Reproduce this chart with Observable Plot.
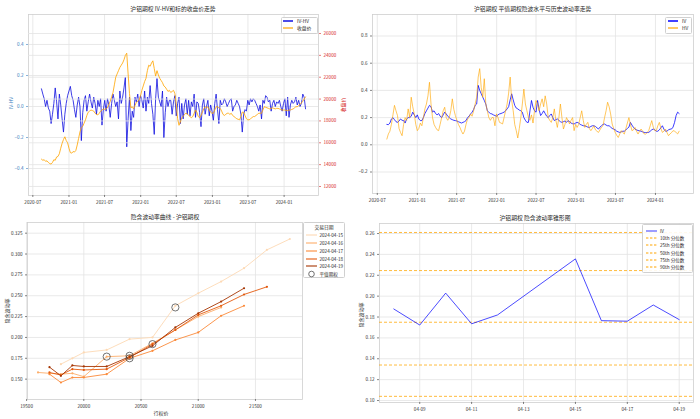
<!DOCTYPE html>
<html><head><meta charset="utf-8">
<script src="https://cdn.jsdelivr.net/npm/d3@7"></script>
<script src="https://cdn.jsdelivr.net/npm/@observablehq/plot@0.6"></script>
<style>
html,body{margin:0;padding:0;background:#fff;}
#root{position:relative;width:700px;height:419px;overflow:hidden;background:#fff;font-family:"Noto Sans CJK SC","DejaVu Sans",sans-serif;}
.t{position:absolute;white-space:nowrap;line-height:1;color:#262626;}
.lg{position:absolute;background:rgba(255,255,255,0.9);border:0.6px solid #d0d0d0;border-radius:1.5px;box-sizing:border-box;}
</style></head><body><div id="root"></div>
<script>
// ---------- Panel 1 & 2: weekly series (from 2020-08-14, one value per week) ----------
const weekStart = "2020-08-14";
const ivhv = [0.114,0.08,0.05,0.0,0.04,-0.01,-0.03,-0.11,-0.05,0.02,
0.12,0.03,-0.08,0.08,0.01,-0.08,-0.165,-0.05,0.02,0.07,
0.10,0.13,0.07,0.04,-0.02,-0.07,0.01,0.06,0.0,-0.22,
-0.04,0.04,0.07,-0.03,0.03,0.08,0.03,-0.01,0.06,0.02,
-0.05,0.04,0.0,0.05,-0.12,-0.02,0.04,-0.03,0.05,0.01,
-0.07,0.02,0.08,0.04,0.0,0.03,-0.08,0.10,0.02,0.06,
0.12,0.19,-0.26,-0.08,0.06,-0.155,-0.03,-0.07,0.06,0.03,
0.08,0.0,0.07,0.04,-0.01,0.10,-0.03,0.06,0.02,0.135,
0.02,-0.05,-0.18,0.05,0.18,0.06,0.03,0.0,0.10,-0.20,
-0.04,0.06,0.0,0.04,0.04,-0.05,0.03,0.07,-0.06,0.02,
0.06,-0.11,0.02,-0.08,0.01,0.05,-0.05,0.04,-0.06,0.03,
0.0,0.08,-0.07,0.03,0.02,-0.04,-0.13,0.01,0.05,-0.05,
0.0,0.04,-0.06,0.01,-0.03,-0.09,0.02,0.08,-0.02,-0.11,
0.04,0.01,0.02,0.05,0.03,0.0,0.02,0.04,0.05,-0.03,
0.0,0.01,0.04,0.02,0.0,-0.05,-0.165,-0.05,-0.02,-0.03,
0.04,0.01,0.05,0.03,0.05,0.04,0.02,0.0,-0.03,0.01,
-0.08,0.04,0.02,0.07,0.06,0.03,0.04,-0.03,0.02,0.04,
0.0,0.03,0.02,0.04,0.0,-0.03,0.02,0.05,-0.06,0.06,
-0.07,0.01,0.04,0.02,0.03,0.06,0.01,0.04,0.0,0.02,
0.08,0.06,-0.015];
const closePrice = [14500,14400,14450,14300,14350,14200,14100,14050,14200,14450,
14400,14700,14750,15000,15500,15950,16300,16550,16200,16000,
15500,15100,15050,15200,15150,15300,15800,16400,17000,17400,
17500,17800,18100,18500,18800,18900,19000,18950,18900,18700,
18600,18550,18700,18900,19000,19100,19050,19100,19200,19500,
19800,20200,20600,21300,22000,22300,22600,22900,23100,23300,
23600,24000,24200,22300,20500,19200,19300,19100,19400,19700,
19800,19900,20300,20800,21200,21600,21900,22600,23100,23000,
23300,23500,22800,22100,22600,22200,21900,21700,21500,21200,
21100,20900,20700,20800,20600,20700,20800,20500,19500,18200,
17600,17900,18300,18400,18600,18700,18650,18500,18400,18300,
18400,18700,19000,18800,18400,18300,18500,18800,19100,19300,
19200,19300,19000,18800,18700,18700,19000,19300,19300,19200,
19150,18900,18600,18500,18600,18700,18700,18600,18700,18500,
18400,18300,18200,18150,18100,18400,18800,18800,18500,18200,
18100,18100,18200,18300,18400,18400,18500,18600,18700,18700,
18700,19000,19300,19250,19200,19150,19100,19150,19200,19150,
19100,19150,19150,19100,19050,19000,19000,19000,18950,18950,
19000,19000,19050,19100,19200,19300,19300,19400,19500,19650,
19800,20000,20200];
const atmIV = [0.150,0.148,0.160,0.190,0.200,0.185,0.170,0.165,0.175,0.190,
0.180,0.178,0.160,0.190,0.200,0.200,0.210,0.240,0.220,0.200,
0.220,0.190,0.178,0.178,0.200,0.230,0.250,0.270,0.290,0.280,
0.240,0.250,0.230,0.220,0.230,0.210,0.200,0.220,0.240,0.227,
0.210,0.200,0.190,0.185,0.180,0.178,0.175,0.170,0.165,0.160,
0.165,0.170,0.178,0.200,0.210,0.227,0.240,0.260,0.290,0.300,
0.437,0.400,0.375,0.350,0.326,0.300,0.250,0.240,0.230,0.227,
0.220,0.215,0.210,0.220,0.227,0.230,0.235,0.240,0.250,0.264,
0.280,0.330,0.375,0.330,0.290,0.270,0.264,0.255,0.250,0.240,
0.200,0.180,0.165,0.165,0.250,0.326,0.276,0.250,0.240,0.326,
0.260,0.215,0.230,0.250,0.230,0.210,0.200,0.215,0.227,0.200,
0.178,0.185,0.190,0.180,0.170,0.165,0.170,0.175,0.165,0.178,
0.170,0.160,0.155,0.153,0.160,0.165,0.160,0.150,0.145,0.140,
0.140,0.135,0.130,0.128,0.135,0.140,0.140,0.135,0.125,0.116,
0.130,0.140,0.150,0.153,0.145,0.140,0.140,0.130,0.120,0.116,
0.110,0.100,0.095,0.091,0.095,0.100,0.100,0.110,0.120,0.130,
0.165,0.145,0.128,0.115,0.110,0.105,0.103,0.100,0.095,0.091,
0.090,0.090,0.091,0.100,0.110,0.116,0.110,0.100,0.100,0.110,
0.125,0.140,0.115,0.100,0.100,0.110,0.115,0.116,0.130,0.165,
0.215,0.240,0.230];
const histHV = [0.042,0.080,0.100,0.150,0.220,0.290,0.250,0.215,0.120,0.090,
0.067,0.150,0.200,0.180,0.264,0.200,0.350,0.280,0.227,0.150,
0.104,0.120,0.160,0.140,0.200,0.264,0.300,0.360,0.460,0.300,
0.200,0.150,0.128,0.110,0.104,0.150,0.200,0.250,0.276,0.200,
0.180,0.200,0.250,0.338,0.260,0.215,0.180,0.150,0.128,0.100,
0.079,0.100,0.150,0.190,0.200,0.227,0.210,0.250,0.300,0.350,
0.498,0.560,0.420,0.350,0.486,0.300,0.250,0.200,0.180,0.200,
0.200,0.140,0.227,0.200,0.165,0.160,0.153,0.200,0.250,0.300,
0.380,0.498,0.326,0.250,0.150,0.104,0.050,0.120,0.200,0.300,
0.410,0.300,0.250,0.200,0.180,0.220,0.160,0.250,0.326,0.300,
0.250,0.300,0.338,0.280,0.360,0.300,0.200,0.180,0.165,0.200,
0.264,0.180,0.128,0.200,0.300,0.200,0.116,0.150,0.200,0.180,
0.153,0.180,0.200,0.104,0.150,0.128,0.150,0.200,0.250,0.180,
0.128,0.150,0.165,0.120,0.104,0.120,0.140,0.110,0.100,0.091,
0.110,0.130,0.140,0.200,0.250,0.313,0.280,0.227,0.153,0.120,
0.091,0.070,0.054,0.080,0.104,0.090,0.079,0.120,0.160,0.200,
0.150,0.104,0.110,0.128,0.100,0.079,0.100,0.116,0.100,0.080,
0.079,0.090,0.104,0.140,0.178,0.130,0.104,0.104,0.140,0.165,
0.120,0.091,0.100,0.116,0.090,0.067,0.080,0.090,0.104,0.100,
0.091,0.080,0.100];
const dateTicks = ["2020-07-01","2021-01-01","2021-07-01","2022-01-01","2022-07-01","2023-01-01","2023-07-01","2024-01-01"];
const ivhvTicks = [-0.4,-0.2,0,0.2,0.4];
const priceTicks = [12000,14000,16000,18000,20000,22000,24000,26000];
const volTicks = [-0.2,0,0.2,0.4,0.6,0.8];

// ---------- Panel 3: smile ----------
const tradeDates = ["2024-04-15","2024-04-16","2024-04-17","2024-04-18","2024-04-19"];
const strikes = [19600,19700,19800,19900,20000,20200,20400,20600,20800,21000,21200,21400,21600,21800];
const smile0415 = [null,null,0.168,0.175,0.182,0.185,0.198,0.200,0.238,0.253,0.267,0.283,0.305,0.318];
const smile0416 = [0.158,0.157,0.156,0.157,0.153,0.177,0.178,0.193,0.209,0.225,0.236,null,null,null];
const smile0417 = [null,0.156,0.146,0.152,0.152,0.156,0.175,0.184,0.197,0.206,0.226,0.238,null,null];
const smile0418 = [null,0.158,0.155,0.162,0.161,0.162,0.176,0.192,0.209,0.227,0.238,0.2515,0.2607,null];
const smile0419 = [null,0.1644,0.154,0.1664,0.1652,0.1652,0.177,0.190,0.212,0.229,0.243,0.259,null,null];
const atmStrike = [20800,20200,20400,20600,20400];
const atmValue = [0.236,0.177,0.175,0.192,0.178];
const strikeTicks = [19500,20000,20500,21000,21500];
const smileTicks = [0.150,0.175,0.200,0.225,0.250,0.275,0.300,0.325];

// ---------- Panel 4: cone ----------
const coneDates = ["2024-04-08","2024-04-09","2024-04-10","2024-04-11","2024-04-12","2024-04-15","2024-04-16","2024-04-17","2024-04-18","2024-04-19"];
const coneIV = [0.1877,0.1723,0.2029,0.1735,0.182,0.2357,0.1765,0.176,0.1915,0.1775];
const quantileNames = ["10th","25th","50th","75th","90th"];
const quantileValues = [0.104,0.134,0.175,0.2245,0.261];
const coneDateTicks = ["2024-04-09","2024-04-11","2024-04-13","2024-04-15","2024-04-17","2024-04-19"];
const coneTicks = [0.10,0.12,0.14,0.16,0.18,0.20,0.22,0.24,0.26];

// ---------- helpers ----------
const root = document.getElementById("root");
const FONT = '"Noto Sans CJK SC","DejaVu Sans",sans-serif';
const TS = 4.6;
const GRID = "#e3e3e3", FRAME = "#cfcfcf";
function place(el, left, top) {
  el.style.position = "absolute"; el.style.left = left + "px"; el.style.top = top + "px";
  root.append(el); return el;
}
function txt(x, y, s, size, opt = {}) {
  const d = document.createElement("div");
  d.className = "t"; d.textContent = s;
  d.style.left = x + "px"; d.style.top = y + "px"; d.style.fontSize = size + "px";
  const ax = opt.align === "start" ? "0" : opt.align === "end" ? "-100%" : "-50%";
  d.style.transform = `translate(${ax},-50%)` + (opt.rotate ? ` rotate(${opt.rotate}deg)` : "");
  if (opt.color) d.style.color = opt.color;
  root.append(d);
}
function box(x, y, w, h) {
  const b = document.createElement("div"); b.className = "lg";
  b.style.left = x + "px"; b.style.top = y + "px"; b.style.width = w + "px"; b.style.height = h + "px";
  root.append(b);
}
function swatch(x, y, w, kind, color, sw = 1.2) {
  const ns = "http://www.w3.org/2000/svg";
  const s = document.createElementNS(ns, "svg");
  s.setAttribute("width", w); s.setAttribute("height", 8);
  s.style.position = "absolute"; s.style.left = x + "px"; s.style.top = (y - 4) + "px"; s.style.overflow = "visible";
  if (kind === "circle") {
    s.innerHTML = `<circle cx="${w / 2}" cy="4" r="2.8" fill="none" stroke="${color}" stroke-width="0.7"/>`;
  } else {
    const dash = kind === "dash" ? `stroke-dasharray="2.4,1.6"` : "";
    s.innerHTML = `<line x1="0" x2="${w}" y1="4" y2="4" stroke="${color}" stroke-width="${sw}" ${dash}/>`;
  }
  root.append(s);
}
const style = {fontFamily: FONT, fontSize: TS + "px", color: "#333", background: "transparent", overflow: "visible"};
const ax = {tickSize: 2, tickPadding: 3, label: null, strokeWidth: 0.6};

const weekDates = ivhv.map((_, i) => d3.utcDay.offset(new Date(weekStart), 7 * i));
const series = (vals) => vals.map((v, i) => ({date: weekDates[i], v}));
const xDom = [new Date("2020-06-09"), new Date("2024-06-24")];
const dTicks = dateTicks.map(d => new Date(d));

// ---------- Panel 1 ----------
const m1 = {width: 350, height: 210, marginLeft: 28, marginRight: 32, marginTop: 14, marginBottom: 15};
place(Plot.plot({
  ...m1, style,
  x: {type: "utc", domain: xDom},
  y: {domain: [-0.574, 0.5935]},
  marks: [
    Plot.gridX(dTicks, {stroke: GRID, strokeOpacity: 1, strokeWidth: 0.8}),
    Plot.gridY(ivhvTicks, {stroke: GRID, strokeOpacity: 1, strokeWidth: 0.8}),
    Plot.frame({stroke: FRAME, strokeWidth: 0.8}),
    Plot.axisX(dTicks, {...ax, tickFormat: d3.utcFormat("%Y-%m"), color: "#333"}),
    Plot.axisY(ivhvTicks, {...ax, tickFormat: d3.format(".1f"), color: "#3a7dc0"}),
    Plot.lineY(series(ivhv), {x: "date", y: "v", stroke: "#1010e0", strokeWidth: 0.9, strokeOpacity: 0.9})
  ]
}), 0, 0);
place(Plot.plot({
  ...m1, style,
  x: {type: "utc", domain: xDom, axis: null},
  y: {domain: [11176, 27739]},
  marks: [
    Plot.gridY(priceTicks, {stroke: GRID, strokeOpacity: 1, strokeWidth: 0.8}),
    Plot.axisY(priceTicks, {...ax, anchor: "right", tickFormat: d3.format("d"), color: "#d62728"}),
    Plot.lineY(series(closePrice), {x: "date", y: "v", stroke: "orange", strokeWidth: 0.9, strokeOpacity: 0.9})
  ]
}), 0, 0);
txt(173, 9.3, "沪铝期权  IV-HV和标的收盘价走势", 5.8);
txt(10, 103, "IV-HV", 5, {rotate: -90, color: "#3a7dc0"});
txt(342, 105, "收盘价", 5, {rotate: -90, color: "#d62728"});
box(280.5, 16.5, 37, 17);
swatch(283, 20.7, 10, "line", "#1010e0", 1.5); txt(297, 20.7, "IV-HV", 4.8, {align: "start"});
swatch(283, 28.3, 10, "line", "orange", 1.2); txt(297, 28.3, "收盘价", 4.8, {align: "start"});

// ---------- Panel 2 ----------
place(Plot.plot({
  width: 350, height: 210, marginLeft: 22, marginRight: 7, marginTop: 14, marginBottom: 17, style,
  x: {type: "utc", domain: xDom},
  y: {domain: [-0.358, 0.958]},
  marks: [
    Plot.gridX(dTicks, {stroke: GRID, strokeOpacity: 1, strokeWidth: 0.8}),
    Plot.gridY(volTicks, {stroke: GRID, strokeOpacity: 1, strokeWidth: 0.8}),
    Plot.frame({stroke: FRAME, strokeWidth: 0.8}),
    Plot.axisX(dTicks, {...ax, tickFormat: d3.utcFormat("%Y-%m"), color: "#333"}),
    Plot.axisY(volTicks, {...ax, tickFormat: d3.format(".1f"), color: "#333"}),
    Plot.lineY(series(atmIV), {x: "date", y: "v", stroke: "blue", strokeWidth: 0.9, strokeOpacity: 0.85}),
    Plot.lineY(series(histHV), {x: "date", y: "v", stroke: "orange", strokeWidth: 0.9, strokeOpacity: 0.7})
  ]
}), 350, 0);
txt(532.7, 9.3, "沪铝期权 平值期权隐波水平与历史波动率走势", 5.8);
box(664.5, 16.5, 27, 17);
swatch(668, 20.7, 10, "line", "blue", 1.5); txt(682, 20.7, "IV", 4.8, {align: "start"});
swatch(668, 28.3, 10, "line", "orange", 1.2); txt(682, 28.3, "HV", 4.8, {align: "start"});

// ---------- Panel 3 ----------
const smileSets = [smile0415, smile0416, smile0417, smile0418, smile0419];
const smileColors = ["#fdd9b4", "#fdae6b", "#fb8a3a", "#e35a0e", "#a63603"];
const smileRows = smileSets.flatMap((arr, k) => arr.map((v, i) => ({date: tradeDates[k], strike: strikes[i], iv: v})).filter(r => r.iv != null));
const atmRows = tradeDates.map((d, k) => ({date: d, strike: atmStrike[k], iv: atmValue[k]}));
place(Plot.plot({
  width: 350, height: 209, marginLeft: 27, marginRight: 48, marginTop: 12, marginBottom: 20, style,
  x: {domain: [19508, 21911]},
  y: {domain: [0.1256, 0.3378]},
  color: {domain: tradeDates, range: smileColors},
  marks: [
    Plot.gridX(strikeTicks, {stroke: GRID, strokeOpacity: 1, strokeWidth: 0.8}),
    Plot.gridY(smileTicks, {stroke: GRID, strokeOpacity: 1, strokeWidth: 0.8}),
    Plot.frame({stroke: FRAME, strokeWidth: 0.8}),
    Plot.axisX(strikeTicks, {...ax, tickFormat: d3.format("d"), color: "#333"}),
    Plot.axisY(smileTicks, {...ax, tickFormat: d3.format(".3f"), color: "#333"}),
    Plot.line(smileRows, {x: "strike", y: "iv", z: "date", stroke: "date", strokeWidth: 0.9}),
    Plot.dot(smileRows, {x: "strike", y: "iv", fill: "date", r: 1.1}),
    Plot.dot(atmRows, {x: "strike", y: "iv", r: 3.6, stroke: "#3a3a3a", strokeWidth: 0.7, fill: "none"})
  ]
}), 0, 210);
txt(165, 216.7, "隐含波动率曲线 - 沪铝期权", 5.8);
txt(161, 411.8, "行权价", 5);
txt(5.5, 311, "隐含波动率", 5, {rotate: -90});
box(303, 222, 42, 56);
txt(324, 227.3, "交易日期", 4.8);
const lgY3 = [235.2, 243, 250.8, 258.6, 266.4];
tradeDates.forEach((d, k) => { swatch(306, lgY3[k], 11, "line", smileColors[k], 1.1); txt(319.5, lgY3[k], d, 4.6, {align: "start"}); });
swatch(306, 274.1, 11, "circle", "#3a3a3a"); txt(319.5, 274.1, "平值期权", 4.6, {align: "start"});

// ---------- Panel 4 ----------
const coneRows = coneDates.map((d, i) => ({date: new Date(d), iv: coneIV[i]}));
const cTicks = coneDateTicks.map(d => new Date(d));
place(Plot.plot({
  width: 350, height: 209, marginLeft: 29, marginRight: 7, marginTop: 13, marginBottom: 17, style,
  x: {type: "utc", domain: [new Date("2024-04-07T10:48Z"), new Date("2024-04-19T13:12Z")]},
  y: {domain: [0.0981, 0.2696]},
  marks: [
    Plot.gridX(cTicks, {stroke: GRID, strokeOpacity: 1, strokeWidth: 0.8}),
    Plot.gridY(coneTicks, {stroke: GRID, strokeOpacity: 1, strokeWidth: 0.8}),
    Plot.frame({stroke: FRAME, strokeWidth: 0.8}),
    Plot.axisX(cTicks, {...ax, tickFormat: d3.utcFormat("%m-%d"), color: "#333"}),
    Plot.axisY(coneTicks, {...ax, tickFormat: d3.format(".2f"), color: "#333"}),
    Plot.ruleY(quantileValues, {stroke: "orange", strokeWidth: 0.9, strokeDasharray: "3,2", strokeOpacity: 0.85}),
    Plot.lineY(coneRows, {x: "date", y: "iv", stroke: "blue", strokeOpacity: 0.7, strokeWidth: 1})
  ]
}), 350, 210);
txt(535, 218.3, "沪铝期权 隐含波动率锥形图", 5.8);
txt(359.5, 315, "隐含波动率", 5, {rotate: -90});
box(642, 223.5, 51, 49);
const lgY4 = [230.7, 238.1, 245.4, 252.7, 260, 267.3];
swatch(646, lgY4[0], 11, "line", "rgba(0,0,255,0.7)", 1.1); txt(660, lgY4[0], "IV", 4.6, {align: "start"});
quantileNames.forEach((q, k) => { swatch(646, lgY4[k + 1], 11, "dash", "orange", 1.0); txt(660, lgY4[k + 1], q + " 分位数", 4.6, {align: "start"}); });
</script></body></html>
